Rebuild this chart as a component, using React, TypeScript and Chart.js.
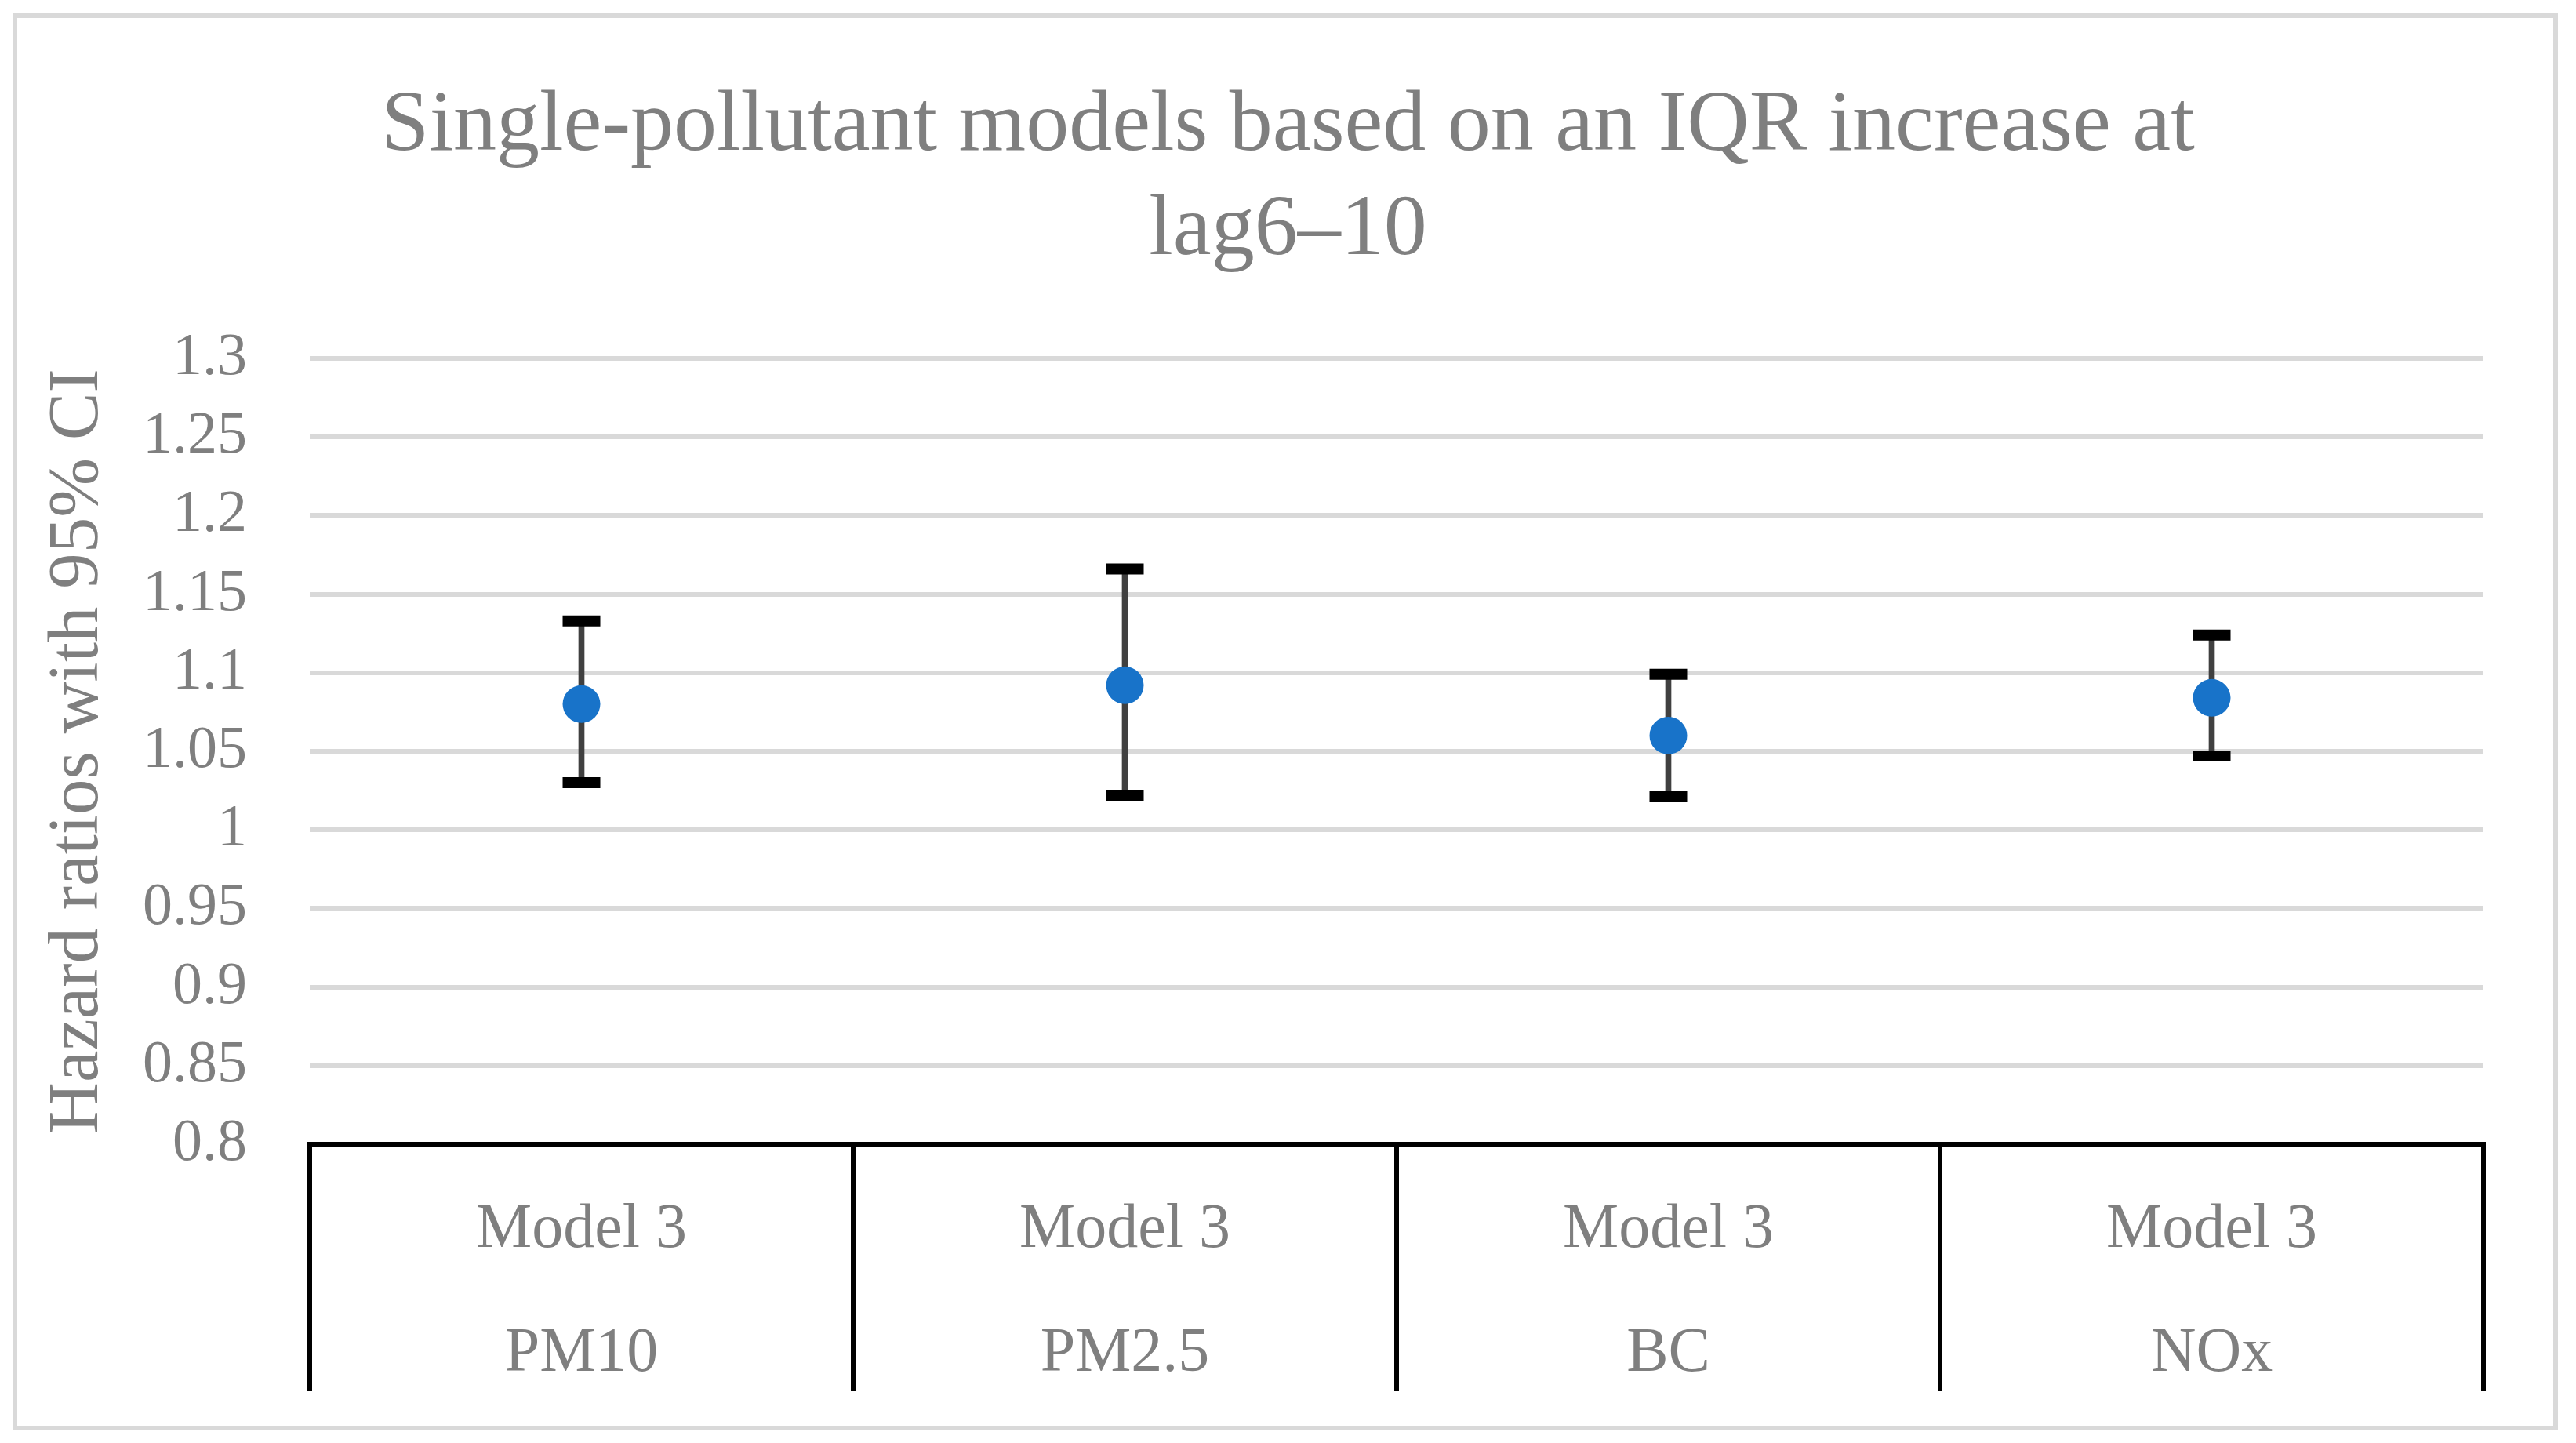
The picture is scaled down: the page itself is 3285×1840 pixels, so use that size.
import React, { useEffect, useRef } from 'react';
import { Chart, registerables } from 'chart.js';

Chart.register(...registerables);

const categories = [
  ['Model 3', 'PM10'],
  ['Model 3', 'PM2.5'],
  ['Model 3', 'BC'],
  ['Model 3', 'NOx'],
];
const hazardRatios = [1.08, 1.092, 1.06, 1.084];
const lowerCI = [1.03, 1.022, 1.021, 1.047];
const upperCI = [1.133, 1.166, 1.099, 1.124];
const yTickValues = [0.8, 0.85, 0.9, 0.95, 1, 1.05, 1.1, 1.15, 1.2, 1.25, 1.3];
const titleLines = ['Single-pollutant models based on an IQR increase at', 'lag6–10'];
const yAxisTitle = 'Hazard ratios with 95% CI';

const FONT = "'Liberation Serif', 'Times New Roman', serif";
const TEXT = '#7f7f7f';

export default function App() {
  const ref = useRef<HTMLCanvasElement>(null);

  useEffect(() => {
    if (!ref.current) return;
    const chart = new Chart(ref.current, {
      type: 'bar',
      data: {
        labels: categories,
        datasets: [
          {
            type: 'line',
            label: 'HR',
            data: hazardRatios,
            showLine: false,
            pointRadius: 24,
            pointHoverRadius: 24,
            pointBackgroundColor: '#1873C9',
            pointBorderWidth: 0,
            order: 1,
          } as any,
          {
            type: 'line',
            label: 'Upper',
            data: upperCI,
            showLine: false,
            pointStyle: 'line',
            pointRadius: 24,
            pointHoverRadius: 24,
            pointBorderColor: '#000000',
            pointBorderWidth: 14,
            order: 2,
          } as any,
          {
            type: 'line',
            label: 'Lower',
            data: lowerCI,
            showLine: false,
            pointStyle: 'line',
            pointRadius: 24,
            pointHoverRadius: 24,
            pointBorderColor: '#000000',
            pointBorderWidth: 14,
            order: 2,
          } as any,
          {
            type: 'bar',
            label: 'CI',
            data: lowerCI.map((l, i) => [l, upperCI[i]]),
            backgroundColor: '#404040',
            barThickness: 7,
            order: 3,
          } as any,
        ],
      },
      options: {
        animation: false,
        responsive: true,
        maintainAspectRatio: false,
        layout: { padding: { left: 118, right: 118, top: 0, bottom: 0 } },
        plugins: {
          legend: { display: false },
          tooltip: { enabled: false },
          title: {
            display: true,
            text: titleLines,
            color: TEXT,
            font: { family: FONT, size: 110, weight: 'normal', lineHeight: 1.209 },
            padding: { top: 96, bottom: 95 },
          },
        },
        scales: {
          x: {
            type: 'category',
            offset: true,
            grid: {
              display: true,
              offset: true,
              drawOnChartArea: false,
              drawTicks: true,
              tickLength: 315,
              color: '#000000',
              lineWidth: 6,
            },
            border: { display: true, color: '#000000', width: 6, z: 1 },
            ticks: {
              color: TEXT,
              font: { family: FONT, size: 80, lineHeight: 1.975 },
              padding: -284,
              maxRotation: 0,
              minRotation: 0,
              autoSkip: false,
            },
            afterFit: (scale: any) => {
              scale.height = 381;
            },
          },
          y: {
            type: 'linear',
            min: 0.8,
            max: 1.3,
            afterBuildTicks: (scale: any) => {
              scale.ticks = yTickValues.map((v) => ({ value: v }));
            },
            grid: {
              color: (ctx: any) => (ctx.tick && Math.abs(ctx.tick.value - 0.8) < 1e-9 ? 'rgba(0,0,0,0)' : '#d9d9d9'),
              lineWidth: 6,
              drawTicks: false,
            },
            border: { display: false },
            ticks: {
              color: TEXT,
              font: { family: FONT, size: 76 },
              padding: 80,
              callback: (v: any) => String(Number(Number(v).toFixed(2))),
            },
            title: {
              display: true,
              text: yAxisTitle,
              color: TEXT,
              font: { family: FONT, size: 91, lineHeight: 1.2 },
              padding: { top: -72.4, bottom: 0 },
            },
            afterFit: (scale: any) => {
              scale.width = 277;
            },
          },
        },
      },
    });
    return () => chart.destroy();
  }, []);

  return (
    <div style={{ position: 'fixed', left: 0, top: 0, width: 3285, height: 1840, background: '#ffffff' }}>
      <div
        style={{
          position: 'absolute',
          left: 16,
          top: 17,
          width: 3234,
          height: 1795,
          border: '6px solid #d9d9d9',
          boxSizing: 'content-box',
        }}
      />
      <div style={{ position: 'absolute', left: 0, top: 0, width: 3285, height: 1840 }}>
        <canvas ref={ref} />
      </div>
    </div>
  );
}
